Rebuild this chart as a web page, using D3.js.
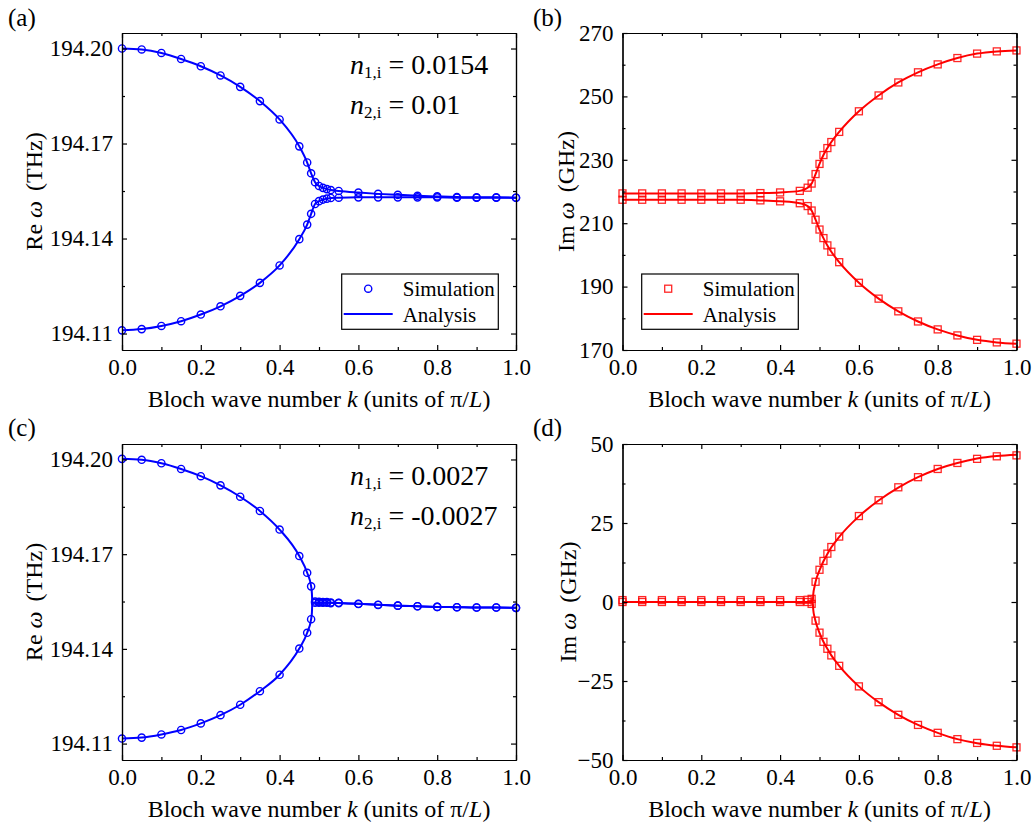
<!DOCTYPE html>
<html>
<head>
<meta charset="utf-8">
<script src="https://cdn.jsdelivr.net/npm/d3@7/dist/d3.min.js"></script>
<style>
  body { margin: 0; background: #fff; }
  svg text { font-family: "Liberation Serif", "Times New Roman", serif; fill: #000; }
</style>
</head>
<body>
<svg width="1035" height="828"></svg>
<script>
// k grid of the simulation points (units of pi/L)
var kSim = [0, 0.05, 0.1, 0.15, 0.2, 0.25, 0.3, 0.35, 0.4, 0.45, 0.47, 0.48, 0.49, 0.5,
  0.51, 0.52, 0.53, 0.55, 0.6, 0.65, 0.7, 0.75, 0.8, 0.85, 0.9, 0.95, 1.0];

// (a) Re omega, THz
var reUpperA = [194.2000, 194.1997, 194.1986, 194.1967, 194.1944, 194.1915, 194.1879, 194.1834,
  194.1776, 194.1691, 194.1640, 194.1606, 194.1578, 194.1566, 194.1560, 194.1556, 194.1553,
  194.1550, 194.1545, 194.1541, 194.1538, 194.1535, 194.1533, 194.1531, 194.1530, 194.1530, 194.1529];
var reLowerA = [194.1110, 194.1114, 194.1124, 194.1139, 194.1160, 194.1186, 194.1219, 194.1260,
  194.1315, 194.1398, 194.1444, 194.1478, 194.1509, 194.1518, 194.1523, 194.1526, 194.1528,
  194.1529, 194.1530, 194.1530, 194.1530, 194.1530, 194.1530, 194.1529, 194.1529, 194.1529, 194.1529];

// (b) Im omega, GHz
var imUpperB = [219.4, 219.4, 219.4, 219.4, 219.4, 219.4, 219.4, 219.5, 219.7, 220.2, 221.2, 222.5,
  225.5, 228.7, 231.5, 233.7, 235.6, 238.8, 245.3, 250.3, 254.4, 257.6, 260.1, 262.1, 263.5, 264.2, 264.5];
var imLowerB = [217.4, 217.4, 217.4, 217.4, 217.4, 217.4, 217.4, 217.2, 216.9, 216.3, 215.4, 214.0,
  211.1, 208.0, 205.3, 203.0, 201.0, 197.7, 191.2, 186.2, 182.2, 179.0, 176.5, 174.6, 173.2, 172.4, 172.0];

// (c) Re omega, THz
var reUpperC = [194.2002, 194.1999, 194.1988, 194.1970, 194.1947, 194.1918, 194.1882, 194.1837,
  194.1778, 194.1694, 194.1641, 194.1598, 194.1550, 194.1549, 194.1548, 194.1548, 194.1547,
  194.1546, 194.1543, 194.1540, 194.1537, 194.1535, 194.1533, 194.1532, 194.1531, 194.1531, 194.1530];
var reLowerC = [194.1116, 194.1119, 194.1129, 194.1143, 194.1164, 194.1190, 194.1223, 194.1266,
  194.1318, 194.1401, 194.1451, 194.1494, 194.1546, 194.1546, 194.1546, 194.1546, 194.1545,
  194.1545, 194.1542, 194.1539, 194.1537, 194.1535, 194.1533, 194.1532, 194.1531, 194.1531, 194.1530];

// (d) Im omega, GHz
var imUpperD = [0.6, 0.6, 0.6, 0.6, 0.6, 0.6, 0.6, 0.6, 0.6, 0.6, 0.7, 1.0, 6.4, 10.2, 13.0, 15.3,
  17.4, 20.7, 27.2, 32.2, 36.3, 39.5, 42.1, 44.0, 45.3, 46.1, 46.4];
var imLowerD = [0, 0, 0, 0, 0, 0, 0, 0, 0, 0, 0, -0.6, -5.9, -9.7, -12.6, -14.8,
  -16.9, -20.2, -26.7, -31.7, -35.7, -38.9, -41.4, -43.4, -44.6, -45.5, -46.0];

// analysis curves for (c),(d): denser around the exceptional point
var kAna = [0, 0.05, 0.1, 0.15, 0.2, 0.25, 0.3, 0.35, 0.4, 0.45, 0.47, 0.48, 0.482, 0.483,
  0.484, 0.4875, 0.49, 0.5, 0.51, 0.52, 0.53, 0.55, 0.6, 0.65, 0.7, 0.75, 0.8, 0.85, 0.9, 0.95, 1.0];
var anaReUpperC = [194.2002, 194.1999, 194.1988, 194.1970, 194.1947, 194.1918, 194.1882, 194.1837,
  194.1778, 194.1694, 194.1641, 194.1598, 194.1576, 194.1547, 194.1546, 194.1546, 194.1546,
  194.1546, 194.1546, 194.1546, 194.1546, 194.1545, 194.1543, 194.1540, 194.1537, 194.1535,
  194.1533, 194.1532, 194.1531, 194.1531, 194.1530];
var anaReLowerC = [194.1116, 194.1119, 194.1129, 194.1143, 194.1164, 194.1190, 194.1223, 194.1266,
  194.1318, 194.1401, 194.1451, 194.1494, 194.1515, 194.1545, 194.1546, 194.1546, 194.1546,
  194.1546, 194.1546, 194.1546, 194.1546, 194.1545, 194.1543, 194.1540, 194.1537, 194.1535,
  194.1533, 194.1532, 194.1531, 194.1531, 194.1530];
var anaImUpperD = [0, 0, 0, 0, 0, 0, 0, 0, 0, 0, 0, 0, 0, 0, 2.3, 4.9, 6.4, 10.0, 12.9, 15.2,
  17.3, 20.6, 27.1, 32.1, 36.2, 39.5, 42.1, 44.0, 45.4, 46.2, 46.6];
var anaImLowerD = [0, 0, 0, 0, 0, 0, 0, 0, 0, 0, 0, 0, 0, 0, -2.3, -4.8, -6.1, -9.8, -12.6, -14.8,
  -16.9, -20.2, -26.7, -31.7, -35.7, -38.9, -41.4, -43.4, -44.7, -45.5, -46.0];

var xMajor = [0, 0.2, 0.4, 0.6, 0.8, 1.0];
var xMinor = [0.1, 0.3, 0.5, 0.7, 0.9];
var reMajor = [194.11, 194.14, 194.17, 194.20];
var reMinor = [194.125, 194.155, 194.185];
var imMajorB = [170, 190, 210, 230, 250, 270];
var imMinorB = [180, 200, 220, 240, 260];
var imMajorD = [-50, -25, 0, 25, 50];
var imMinorD = [-37.5, -12.5, 12.5, 37.5];

var svg = d3.select('svg');
var blue = '#0000ff', red = '#ff0000';

var panels = [
  {label: '(a)', lx: 8, ly: 26, x0: 122, x1: 516, y0: 33, y1: 350,
    yDomain: [194.1048, 194.2049], yMajor: reMajor, yMinor: reMinor, yFmt: d3.format('.2f'),
    yTitle: ['Re ', 'ω', ' (THz)'], yTitleX: 42, color: blue, marker: 'circle',
    sim: [reUpperA, reLowerA], anaK: kSim, ana: [reUpperA, reLowerA],
    legend: {x: 341.7, y: 274}, note: ['1,i', '0.0154', '2,i', '0.01']},
  {label: '(b)', lx: 533, ly: 26, x0: 622.5, x1: 1016.5, y0: 33, y1: 350,
    yDomain: [170, 270], yMajor: imMajorB, yMinor: imMinorB, yFmt: d3.format('d'),
    yTitle: ['Im ', 'ω', ' (GHz)'], yTitleX: 574, color: red, marker: 'square',
    sim: [imUpperB, imLowerB], anaK: kSim, ana: [imUpperB, imLowerB],
    legend: {x: 641.7, y: 274}},
  {label: '(c)', lx: 8, ly: 436, x0: 122, x1: 516, y0: 444, y1: 760,
    yDomain: [194.1048, 194.2049], yMajor: reMajor, yMinor: reMinor, yFmt: d3.format('.2f'),
    yTitle: ['Re ', 'ω', ' (THz)'], yTitleX: 42, color: blue, marker: 'circle',
    sim: [reUpperC, reLowerC], anaK: kAna, ana: [anaReUpperC, anaReLowerC],
    note: ['1,i', '0.0027', '2,i', '-0.0027']},
  {label: '(d)', lx: 533, ly: 436, x0: 622.5, x1: 1016.5, y0: 444, y1: 760,
    yDomain: [-50, 50], yMajor: imMajorD, yMinor: imMinorD, yFmt: d3.format('d'),
    yTitle: ['Im ', 'ω', ' (GHz)'], yTitleX: 576, color: red, marker: 'square',
    sim: [imUpperD, imLowerD], anaK: kAna, ana: [anaImUpperD, anaImLowerD]}
];

function styleAxis(g, size) {
  g.attr('font-family', '"Liberation Serif", "Times New Roman", serif')
    .attr('font-size', size || 23);
  g.selectAll('path, line').attr('stroke', '#000').attr('stroke-width', 1.2);
  g.selectAll('text').attr('fill', '#000');
}

function drawMarker(g, type, cx, cy, color) {
  if (type === 'circle') {
    g.append('circle').attr('cx', cx).attr('cy', cy).attr('r', 3.6)
      .attr('fill', 'none').attr('stroke', color).attr('stroke-width', 1.4);
  } else {
    g.append('rect').attr('x', cx - 3.5).attr('y', cy - 3.5).attr('width', 7).attr('height', 7)
      .attr('fill', 'none').attr('stroke', color).attr('stroke-width', 1.3)
      .attr('stroke-opacity', 0.85);
  }
}

panels.forEach(function(p) {
  var g = svg.append('g');
  var x = d3.scaleLinear().domain([0, 1]).range([p.x0, p.x1]);
  var y = d3.scaleLinear().domain(p.yDomain).range([p.y1, p.y0]);

  // curves
  var line = d3.line()
    .x(function(d) { return x(d[0]); })
    .y(function(d) { return y(d[1]); })
    .curve(d3.curveMonotoneX);
  p.ana.forEach(function(vals) {
    g.append('path')
      .datum(p.anaK.map(function(k, i) { return [k, vals[i]]; }))
      .attr('d', line)
      .attr('fill', 'none')
      .attr('stroke', p.color)
      .attr('stroke-width', 2);
  });

  // simulation markers
  var mg = g.append('g');
  p.sim.forEach(function(vals) {
    kSim.forEach(function(k, i) {
      drawMarker(mg, p.marker, x(k), y(vals[i]), p.color);
    });
  });

  // axes, ticks inward on all four sides
  var bottom = g.append('g').attr('transform', 'translate(0,' + p.y1 + ')')
    .call(d3.axisBottom(x).tickValues(xMajor).tickFormat(d3.format('.1f'))
      .tickSize(-5).tickSizeOuter(0).tickPadding(8.5));
  styleAxis(bottom);
  styleAxis(g.append('g').attr('transform', 'translate(0,' + p.y1 + ')')
    .call(d3.axisBottom(x).tickValues(xMinor).tickFormat('').tickSize(-3).tickSizeOuter(0)));
  styleAxis(g.append('g').attr('transform', 'translate(0,' + p.y0 + ')')
    .call(d3.axisTop(x).tickValues(xMajor).tickFormat('').tickSize(-5).tickSizeOuter(0)));
  styleAxis(g.append('g').attr('transform', 'translate(0,' + p.y0 + ')')
    .call(d3.axisTop(x).tickValues(xMinor).tickFormat('').tickSize(-3).tickSizeOuter(0)));

  var left = g.append('g').attr('transform', 'translate(' + p.x0 + ',0)')
    .call(d3.axisLeft(y).tickValues(p.yMajor).tickFormat(p.yFmt)
      .tickSize(-5).tickSizeOuter(0).tickPadding(9));
  styleAxis(left);
  styleAxis(g.append('g').attr('transform', 'translate(' + p.x0 + ',0)')
    .call(d3.axisLeft(y).tickValues(p.yMinor).tickFormat('').tickSize(-3).tickSizeOuter(0)));
  styleAxis(g.append('g').attr('transform', 'translate(' + p.x1 + ',0)')
    .call(d3.axisRight(y).tickValues(p.yMajor).tickFormat('').tickSize(-5).tickSizeOuter(0)));
  styleAxis(g.append('g').attr('transform', 'translate(' + p.x1 + ',0)')
    .call(d3.axisRight(y).tickValues(p.yMinor).tickFormat('').tickSize(-3).tickSizeOuter(0)));

  // axis titles
  var xt = g.append('text')
    .attr('x', (p.x0 + p.x1) / 2).attr('y', p.y1 + 57)
    .attr('text-anchor', 'middle').attr('font-size', 24);
  xt.append('tspan').text('Bloch wave number ');
  xt.append('tspan').attr('font-style', 'italic').text('k');
  xt.append('tspan').text(' (units of π/');
  xt.append('tspan').attr('font-style', 'italic').text('L');
  xt.append('tspan').text(')');

  var yt = g.append('text')
    .attr('transform', 'translate(' + p.yTitleX + ',' + (p.y0 + p.y1) / 2 + ') rotate(-90)')
    .attr('text-anchor', 'middle').attr('font-size', 24);
  yt.append('tspan').text(p.yTitle[0]);
  yt.append('tspan').attr('font-style', 'italic').text(p.yTitle[1]);
  yt.append('tspan').attr('dx', 4).text(p.yTitle[2]);

  // panel label
  g.append('text').attr('x', p.lx).attr('y', p.ly).attr('font-size', 25).text(p.label);

  // legend
  if (p.legend) {
    var lg = g.append('g').attr('transform', 'translate(' + p.legend.x + ',' + p.legend.y + ')');
    lg.append('rect').attr('width', 156.6).attr('height', 55.3)
      .attr('fill', '#fff').attr('stroke', '#000').attr('stroke-width', 1.2);
    drawMarker(lg, p.marker, 26.5, 14.7, p.color);
    lg.append('line').attr('x1', 2).attr('x2', 51).attr('y1', 40).attr('y2', 40)
      .attr('stroke', p.color).attr('stroke-width', 2);
    lg.append('text').attr('x', 61).attr('y', 22).attr('font-size', 21).text('Simulation');
    lg.append('text').attr('x', 61).attr('y', 47.7).attr('font-size', 21).text('Analysis');
  }

  // loss / gain annotation
  if (p.note) {
    [0, 1].forEach(function(j) {
      var t = g.append('text')
        .attr('x', p.x0 + 228).attr('y', p.y0 + 41 + j * 39.5)
        .attr('font-size', 28);
      t.append('tspan').attr('font-style', 'italic').text('n');
      t.append('tspan').attr('font-size', 17).attr('dy', 4).text(p.note[j * 2]);
      t.append('tspan').attr('dy', -4).text(' = ' + p.note[j * 2 + 1]);
    });
  }
});
</script>
</body>
</html>
